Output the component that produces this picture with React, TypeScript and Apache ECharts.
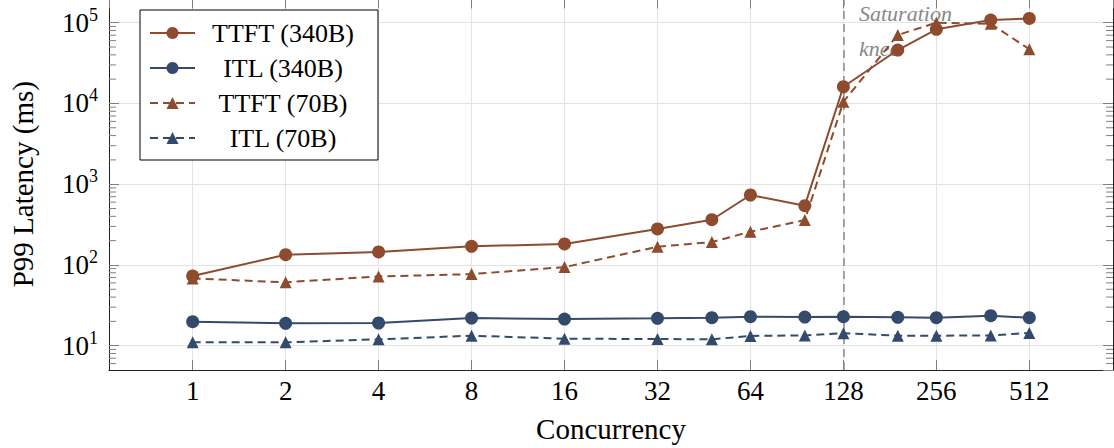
import React, { useEffect, useRef } from 'react';
import * as echarts from 'echarts';

const concurrency = [1, 2, 4, 8, 16, 32, 48, 64, 96, 128, 192, 256, 384, 512];
const ttft340 = [73, 134, 145, 170, 182, 279, 363, 735, 542, 16100, 45900, 82800, 108000, 113000];
const itl340 = [19.8, 18.9, 19.1, 22.0, 21.4, 21.8, 22.2, 22.9, 22.6, 22.9, 22.5, 22.2, 23.5, 22.2];
const ttft70 = [68, 61, 72, 77, 94, 168, 192, 258, 360, 10500, 70500, 100000, 97000, 46900];
const itl70 = [11.0, 11.0, 12.0, 13.3, 12.2, 12.1, 12.0, 13.2, 13.4, 14.3, 13.3, 13.3, 13.4, 14.4];
const seriesNames = ['TTFT (340B)', 'ITL (340B)', 'TTFT (70B)', 'ITL (70B)'];
const xTickLabels = ['1', '2', '4', '8', '16', '32', '64', '128', '256', '512'];
const saturationX = 128;
const annotationLines = ['Saturation', 'knee'];

// x range in log2 units (pgfplots enlarged limits)
const LX_MIN = -0.9;
const LX_MAX = 9.9;
const X_MIN = Math.pow(2, LX_MIN);
const X_MAX = Math.pow(2, LX_MAX);
const Y_MIN = 5;
const Y_MAX = 2e5;

const BROWN = '#8E4B2E';
const NAVY = '#334A6C';
const FONT = 'Liberation Serif';
const TICK = '#808080';
const GRID = '#e3e3e3';
const FRAME = '#222';

const minorTickValues: number[] = [];
for (let k = 0; k <= 5; k++) {
  for (let m = 2; m <= 9; m++) {
    const v = m * Math.pow(10, k);
    if (v > Y_MIN && v < Y_MAX) minorTickValues.push(v);
  }
}

function zip(ys: number[]) {
  return concurrency.map((c, i) => [c, ys[i]]);
}

export default function App() {
  const ref = useRef<HTMLDivElement>(null);
  useEffect(() => {
    if (!ref.current) return;
    const chart = echarts.init(ref.current, null, { renderer: 'svg' });
    const lineSeries = (name: string, data: number[], color: string, dashed: boolean, extra: any = {}) => ({
      type: 'line',
      name,
      data: zip(data),
      xAxisIndex: 2,
      yAxisIndex: 0,
      symbol: dashed ? 'triangle' : 'circle',
      symbolSize: dashed ? 12 : 13,
      itemStyle: { color },
      lineStyle: { color, width: 2, type: dashed ? [8, 5] : 'solid' },
      z: 3,
      ...extra,
    });
    const axisLine = { onZero: false, lineStyle: { color: FRAME, width: 1 } };
    const axisTick = { inside: true, length: 10, lineStyle: { color: TICK } };
    const tickAxisCommon = {
      type: 'value',
      min: LX_MIN,
      max: LX_MAX,
      splitNumber: 11,
      axisLine,
      axisTick,
    };
    chart.setOption({
      animation: false,
      textStyle: { fontFamily: FONT },
      grid: { left: 109, right: 1, top: -1.6, bottom: 78, outerBoundsMode: 'none' },
      legend: {
        data: seriesNames,
        orient: 'vertical',
        left: 140,
        top: 10,
        padding: [10, 12, 9, 9],
        itemGap: 9,
        itemWidth: 45,
        itemHeight: 15,
        backgroundColor: '#fff',
        borderColor: '#000',
        borderWidth: 1,
        selectedMode: false,
        formatter: (n: string) => `{t|${n}}`,
        textStyle: {
          rich: {
            t: { width: 166, align: 'center', fontSize: 26, lineHeight: 26, fontFamily: FONT, color: '#000' },
          },
        },
      },
      xAxis: [
        {
          ...tickAxisCommon,
          position: 'bottom',
          name: 'Concurrency',
          nameLocation: 'middle',
          nameGap: 44,
          nameTextStyle: { fontSize: 29, fontFamily: FONT, color: '#000' },
          axisLabel: {
            fontSize: 27,
            fontFamily: FONT,
            color: '#000',
            margin: 7,
            showMinLabel: false,
            showMaxLabel: false,
            formatter: (v: number) => xTickLabels[Math.round(v)] ?? '',
          },
          splitLine: { show: true, lineStyle: { color: GRID, width: 1 } },
        },
        {
          ...tickAxisCommon,
          position: 'top',
          axisLabel: { show: false },
          splitLine: { show: false },
        },
        {
          type: 'log',
          logBase: 2,
          min: X_MIN,
          max: X_MAX,
          show: false,
          axisLine: { show: false, onZero: false },
          axisTick: { show: false },
          axisLabel: { show: false },
          splitLine: { show: false },
        },
      ],
      yAxis: [
        {
          type: 'log',
          logBase: 10,
          min: Y_MIN,
          max: Y_MAX,
          position: 'left',
          name: 'P99 Latency (ms)',
          nameLocation: 'middle',
          nameGap: 72,
          nameTextStyle: { fontSize: 29, fontFamily: FONT, color: '#000' },
          axisLine,
          axisTick,
          axisLabel: {
            margin: 11,
            showMinLabel: false,
            showMaxLabel: false,
            formatter: (v: number) => `{b|10}{s|${Math.round(Math.log10(v))}}`,
            rich: {
              b: { fontSize: 27, lineHeight: 34, fontFamily: FONT, color: '#000' },
              s: { fontSize: 18, verticalAlign: 'top', fontFamily: FONT, color: '#000' },
            },
          },
          splitLine: { show: true, lineStyle: { color: GRID, width: 1 } },
        },
        {
          type: 'log',
          logBase: 10,
          min: Y_MIN,
          max: Y_MAX,
          position: 'right',
          axisLine,
          axisTick,
          axisLabel: { show: false },
          splitLine: { show: false },
        },
      ],
      graphic: [
        {
          type: 'text',
          z: 1,
          x: 859,
          y: 13,
          style: {
            text: annotationLines[0],
            font: `italic 22px "${FONT}"`,
            fill: '#888888',
            verticalAlign: 'middle',
          },
        },
        {
          type: 'text',
          z: 1,
          x: 859,
          y: 48,
          style: {
            text: annotationLines[1],
            font: `italic 22px "${FONT}"`,
            fill: '#888888',
            verticalAlign: 'middle',
          },
        },
      ],
      series: [
        {
          type: 'custom',
          name: 'minorTicks',
          coordinateSystem: 'cartesian2d',
          xAxisIndex: 2,
          yAxisIndex: 0,
          silent: true,
          clip: false,
          z: 1,
          data: minorTickValues.map((v) => [X_MIN, v]),
          renderItem: (params: any, api: any) => {
            const v = api.value(1);
            const pl = api.coord([X_MIN, v]);
            const pr = api.coord([X_MAX, v]);
            const st = { stroke: TICK, lineWidth: 1 };
            return {
              type: 'group',
              children: [
                { type: 'line', shape: { x1: pl[0], y1: pl[1], x2: pl[0] + 7, y2: pl[1] }, style: st },
                { type: 'line', shape: { x1: pr[0] - 7, y1: pr[1], x2: pr[0], y2: pr[1] }, style: st },
              ],
            };
          },
        },
        lineSeries(seriesNames[0], ttft340, BROWN, false, {
          markLine: {
            silent: true,
            symbol: 'none',
            label: { show: false },
            lineStyle: { color: '#8a8a8a', width: 1.5, type: [8, 5] },
            data: [{ xAxis: saturationX }],
            z: 2,
          },
        }),
        lineSeries(seriesNames[1], itl340, NAVY, false),
        lineSeries(seriesNames[2], ttft70, BROWN, true),
        lineSeries(seriesNames[3], itl70, NAVY, true),
      ],
    });
    return () => chart.dispose();
  }, []);
  return <div ref={ref} style={{ position: 'absolute', left: 0, top: 0, width: 1114, height: 448 }} />;
}
